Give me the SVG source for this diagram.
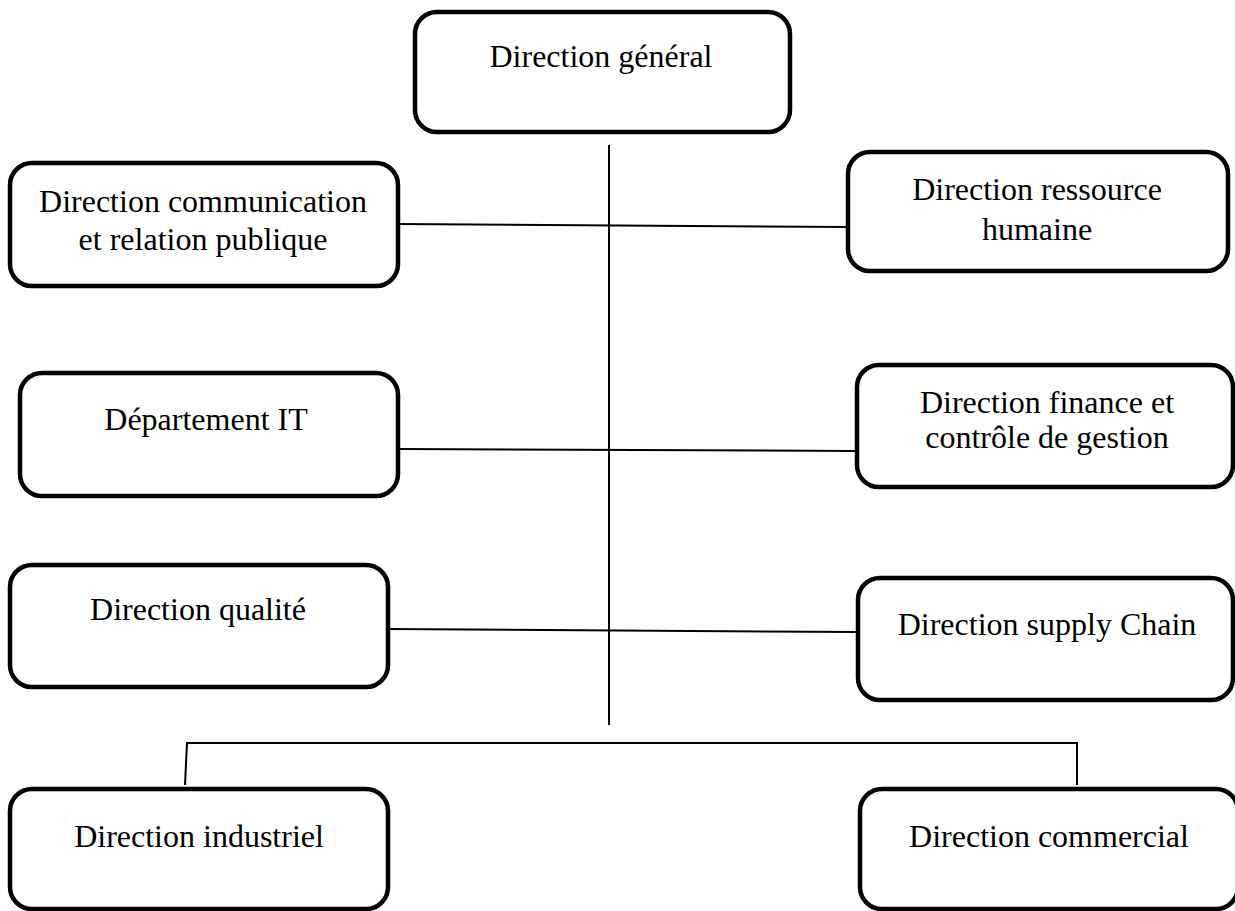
<svg xmlns="http://www.w3.org/2000/svg" width="1235" height="911" viewBox="0 0 1235 911">
<style>
.box{fill:#fff;stroke:#000;stroke-width:4.5}
.t{font-family:"Liberation Serif","Times New Roman",serif;font-size:32px;fill:#000;text-anchor:middle}
.c{fill:none;stroke:#000;stroke-width:2}
</style>
<rect width="1235" height="911" fill="#fff"/>
<g id="connectors">
<line class="c" x1="609" y1="145" x2="609" y2="725"/>
<line class="c" x1="398" y1="224" x2="848" y2="227"/>
<line class="c" x1="398" y1="449" x2="857" y2="451"/>
<line class="c" x1="388" y1="629" x2="858" y2="632"/>
<polyline class="c" points="185,785 187,743 1077,743 1077,785"/>
</g>
<g id="n-general"><rect class="box" x="415" y="12" width="375" height="120" rx="22"/><text class="t" x="601" y="67">Direction général</text></g>
<g id="n-comm"><rect class="box" x="10" y="163" width="388" height="123" rx="22"/><text class="t" x="203" y="212">Direction communication</text><text class="t" x="203" y="250">et relation publique</text></g>
<g id="n-rh"><rect class="box" x="848" y="152" width="380" height="119" rx="22"/><text class="t" x="1037" y="200">Direction ressource</text><text class="t" x="1037" y="240">humaine</text></g>
<g id="n-it"><rect class="box" x="20" y="373" width="378" height="123" rx="22"/><text class="t" x="206" y="430">Département IT</text></g>
<g id="n-finance"><rect class="box" x="857" y="365" width="376" height="122" rx="22"/><text class="t" x="1047" y="413">Direction finance et</text><text class="t" x="1047" y="448">contrôle de gestion</text></g>
<g id="n-qualite"><rect class="box" x="10" y="565" width="378" height="122" rx="22"/><text class="t" x="198" y="620">Direction qualité</text></g>
<g id="n-supply"><rect class="box" x="858" y="578" width="375" height="122" rx="22"/><text class="t" x="1047" y="635">Direction supply Chain</text></g>
<g id="n-industriel"><rect class="box" x="10" y="789" width="378" height="120" rx="22"/><text class="t" x="199" y="847">Direction industriel</text></g>
<g id="n-commercial"><rect class="box" x="860" y="789" width="378" height="120" rx="22"/><text class="t" x="1049" y="847">Direction commercial</text></g>
</svg>
